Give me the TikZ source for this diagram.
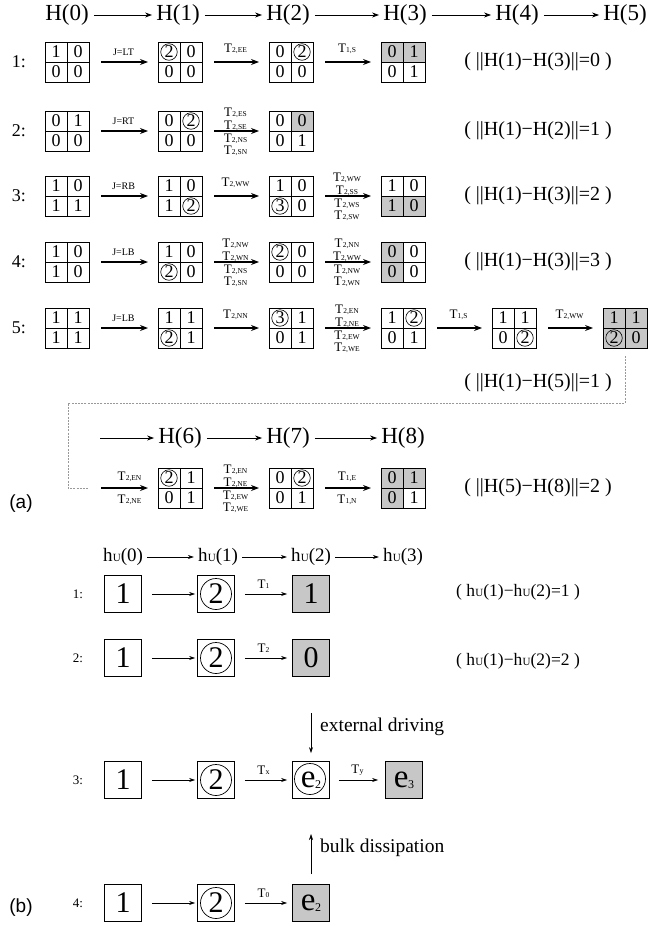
\documentclass[tikz,border=0pt]{standalone}
\usepackage{fontspec}
\setmainfont{Liberation Serif}
\newfontfamily\sansf{Liberation Sans}
\usetikzlibrary{arrows.meta,calc}
\tikzset{
  gridnode/.style={rectangle,minimum width=44pt,minimum height=40pt,inner sep=0pt,outer sep=0pt},
  cellnum/.style={font=\fontsize{18}{18}\selectfont,inner sep=0pt},
  gline/.style={line width=0.8pt},
  shadefill/.style={fill=black!22},
  harr/.style={-{Stealth[length=7pt,width=5pt]},line width=0.8pt},
  garr/.style={-{Stealth[length=8pt,width=6pt]},line width=1.1pt},
  barr/.style={-{Stealth[length=6pt,width=4pt]},line width=0.6pt},
  htext/.style={font=\fontsize{23}{23}\selectfont,inner sep=1pt},
  rowlab/.style={font=\fontsize{18}{18}\selectfont,inner sep=0pt},
  normtext/.style={font=\fontsize{20}{20}\selectfont,inner sep=0pt},
  jlab/.style={font=\fontsize{10}{10}\selectfont,inner sep=0pt},
  tlab/.style={font=\fontsize{13}{13}\selectfont,inner sep=0pt},
  bigbox/.style={draw,line width=0.8pt,minimum size=37pt,inner sep=0pt,font=\fontsize{30}{30}\selectfont},
  hutext/.style={font=\fontsize{19}{19}\selectfont,inner sep=1pt},
  browlab/.style={font=\fontsize{13}{13}\selectfont,inner sep=0pt},
  blab/.style={font=\fontsize{13}{13}\selectfont,inner sep=0pt},
  bnorm/.style={font=\fontsize{17.5}{17.5}\selectfont,inner sep=0pt},
  sidetext/.style={font=\fontsize{19.5}{19.5}\selectfont,inner sep=0pt,anchor=west},
  panel/.style={font=\sansf\fontsize{19}{19}\selectfont,inner sep=0pt},
  dashline/.style={black!40,line width=0.6pt,dash pattern=on 2pt off 1.2pt},
}
\newcommand\cd[1]{\tikz[baseline=(cdn.base)]\node[draw,circle,inner sep=0pt,minimum size=16.5pt,line width=0.6pt](cdn){#1};}
\newcommand\bcd[1]{\tikz[baseline=(cdn.base)]\node[draw,circle,inner sep=0pt,minimum size=31pt,line width=0.7pt](cdn){#1};}
\newcommand\T[1]{T\kern0.2pt{\fontsize{7.5}{7.5}\selectfont#1}}
\newcommand\hU{h\kern0.3pt{\fontsize{11}{11}\selectfont U}}
\newcommand\ee[1]{e\kern-0.5pt\raisebox{-1pt}{\fontsize{12}{12}\selectfont #1}}
\newcommand\sh[2]{\fill[shadefill] (#1.center) rectangle (#1.#2);}
\newcommand\qgrid[7]{%
  \node[gridnode] (#1) at (#2) {};
  #7%
  \node[cellnum] (#1-tl) at ($(#1.center)+(-11,-10)$) {#3};
  \node[cellnum] (#1-tr) at ($(#1.center)+(11,-10)$) {#4};
  \node[cellnum] (#1-bl) at ($(#1.center)+(-11,10)$) {#5};
  \node[cellnum] (#1-br) at ($(#1.center)+(11,10)$) {#6};
  \draw[gline] (#1.north west) rectangle (#1.south east);
  \draw[gline] (#1.north) -- (#1.south) (#1.west) -- (#1.east);
}
\newcommand\garrow[2]{\draw[garr,shorten <=12pt,shorten >=10pt] (#1) -- (#2);}
\newcommand\jl[3]{\node[jlab] (#1#2j) at ($(#1)!.5!(#2)+(0,-10)$) {#3};}
\newcommand\one[3]{\node[tlab] (#1#2t) at ($(#1)!.5!(#2)+(0,-13)$) {\T{#3}};}
\newcommand\four[6]{%
  \node[tlab] (#1#2ta) at ($(#1)!.5!(#2)+(0,-18)$) {\T{#3}};
  \node[tlab] (#1#2tb) at ($(#1)!.5!(#2)+(0,-5.5)$) {\T{#4}};
  \node[tlab] (#1#2tc) at ($(#1)!.5!(#2)+(0,8)$) {\T{#5}};
  \node[tlab] (#1#2td) at ($(#1)!.5!(#2)+(0,19.5)$) {\T{#6}};}
\begin{document}
\begin{tikzpicture}[x=1pt,y=-1pt]
\useasboundingbox (0,0) rectangle (648,926);
% ---------- header (a)
\node[htext] (h0) at (67,15) {H(0)};
\node[htext] (h1) at (178,15) {H(1)};
\node[htext] (h2) at (288,15) {H(2)};
\node[htext] (h3) at (405,15) {H(3)};
\node[htext] (h4) at (517,15) {H(4)};
\node[htext] (h5) at (625,15) {H(5)};
\foreach \a/\b in {h0/h1,h1/h2,h2/h3,h3/h4,h4/h5}
  \draw[harr,shorten <=4pt,shorten >=3pt] (\a) -- (\b);
% ---------- row labels
\node[rowlab] (l1) at (19,62) {1:};
\node[rowlab] (l2) at (19,131) {2:};
\node[rowlab] (l3) at (19,196) {3:};
\node[rowlab] (l4) at (19,262) {4:};
\node[rowlab] (l5) at (19,328) {5:};
% ---------- row 1
\qgrid{r1a}{67,62}{1}{0}{0}{0}{}
\qgrid{r1b}{180,62}{\cd{2}}{0}{0}{0}{}
\qgrid{r1c}{291,62}{0}{\cd{2}}{0}{0}{}
\qgrid{r1d}{403,62}{0}{1}{0}{1}{\sh{r1d}{north west}\sh{r1d}{north east}}
\garrow{r1a}{r1b}\garrow{r1b}{r1c}\garrow{r1c}{r1d}
\jl{r1a}{r1b}{J=LT}
\one{r1b}{r1c}{2,EE}
\one{r1c}{r1d}{1,S}
\node[normtext] (n1) at (538,62) {( ||H(1)−H(3)||=0 )};
% ---------- row 2
\qgrid{r2a}{67,131}{0}{1}{0}{0}{}
\qgrid{r2b}{180,131}{0}{\cd{2}}{0}{0}{}
\qgrid{r2c}{291,131}{0}{0}{0}{1}{\sh{r2c}{north east}}
\garrow{r2a}{r2b}\garrow{r2b}{r2c}
\jl{r2a}{r2b}{J=RT}
\four{r2b}{r2c}{2,ES}{2,SE}{2,NS}{2,SN}
\node[normtext] (n2) at (538,131) {( ||H(1)−H(2)||=1 )};
% ---------- row 3
\qgrid{r3a}{67,196}{1}{0}{1}{1}{}
\qgrid{r3b}{180,196}{1}{0}{1}{\cd{2}}{}
\qgrid{r3c}{291,196}{1}{0}{\cd{3}}{0}{}
\qgrid{r3d}{403,196}{1}{0}{1}{0}{\sh{r3d}{south west}\sh{r3d}{south east}}
\garrow{r3a}{r3b}\garrow{r3b}{r3c}\garrow{r3c}{r3d}
\jl{r3a}{r3b}{J=RB}
\one{r3b}{r3c}{2,WW}
\four{r3c}{r3d}{2,WW}{2,SS}{2,WS}{2,SW}
\node[normtext] (n3) at (538,196) {( ||H(1)−H(3)||=2 )};
% ---------- row 4
\qgrid{r4a}{67,262}{1}{0}{1}{0}{}
\qgrid{r4b}{180,262}{1}{0}{\cd{2}}{0}{}
\qgrid{r4c}{291,262}{\cd{2}}{0}{0}{0}{}
\qgrid{r4d}{403,262}{0}{0}{0}{0}{\sh{r4d}{north west}\sh{r4d}{south west}}
\garrow{r4a}{r4b}\garrow{r4b}{r4c}\garrow{r4c}{r4d}
\jl{r4a}{r4b}{J=LB}
\four{r4b}{r4c}{2,NW}{2,WN}{2,NS}{2,SN}
\four{r4c}{r4d}{2,NN}{2,WW}{2,NW}{2,WN}
\node[normtext] (n4) at (538,262) {( ||H(1)−H(3)||=3 )};
% ---------- row 5
\qgrid{r5a}{67,328}{1}{1}{1}{1}{}
\qgrid{r5b}{180,328}{1}{1}{\cd{2}}{1}{}
\qgrid{r5c}{291,328}{\cd{3}}{1}{0}{1}{}
\qgrid{r5d}{403,328}{1}{\cd{2}}{0}{1}{}
\qgrid{r5e}{514,328}{1}{1}{0}{\cd{2}}{}
\qgrid{r5f}{625,328}{1}{1}{\cd{2}}{0}{\sh{r5f}{north west}\sh{r5f}{north east}\sh{r5f}{south west}\sh{r5f}{south east}}
\garrow{r5a}{r5b}\garrow{r5b}{r5c}\garrow{r5c}{r5d}\garrow{r5d}{r5e}\garrow{r5e}{r5f}
\jl{r5a}{r5b}{J=LB}
\one{r5b}{r5c}{2,NN}
\four{r5c}{r5d}{2,EN}{2,NE}{2,EW}{2,WE}
\one{r5d}{r5e}{1,S}
\one{r5e}{r5f}{2,WW}
\node[normtext] (n5) at (538,383) {( ||H(1)−H(5)||=1 )};
% ---------- dashed continuation
\coordinate (dend) at (88,488);
\draw[dashline] ($(r5f.south)+(0,8)$) -- (625,403) -- (68,403) -- (68,488) -- (dend);
% ---------- row 6 header
\coordinate (h5s) at (100,438);
\node[htext] (h6) at (180,438) {H(6)};
\node[htext] (h7) at (288,438) {H(7)};
\node[htext] (h8) at (403,438) {H(8)};
\draw[harr,shorten >=3pt] (h5s) -- (h6);
\draw[harr,shorten <=4pt,shorten >=3pt] (h6) -- (h7);
\draw[harr,shorten <=4pt,shorten >=3pt] (h7) -- (h8);
% ---------- row 6
\coordinate (r6s) at (101,488);
\qgrid{r6b}{180,488}{\cd{2}}{1}{0}{1}{}
\qgrid{r6c}{291,488}{0}{\cd{2}}{0}{1}{}
\qgrid{r6d}{403,488}{0}{1}{0}{1}{\sh{r6d}{north west}\sh{r6d}{north east}\sh{r6d}{south west}}
\draw[garr,shorten >=10pt] (r6s) -- (r6b);
\garrow{r6b}{r6c}\garrow{r6c}{r6d}
\node[tlab] (r6t1) at ($(r6s)!.5!(r6b.west)+(0,-11)$) {\T{2,EN}};
\node[tlab] (r6t2) at ($(r6s)!.5!(r6b.west)+(0,12)$) {\T{2,NE}};
\four{r6b}{r6c}{2,EN}{2,NE}{2,EW}{2,WE}
\node[tlab] (r6t3) at ($(r6c)!.5!(r6d)+(0,-11)$) {\T{1,E}};
\node[tlab] (r6t4) at ($(r6c)!.5!(r6d)+(0,12)$) {\T{1,N}};
\node[normtext] (n6) at (538,488) {( ||H(5)−H(8)||=2 )};
\node[panel] (pa) at (21,504) {(a)};
% ---------- part (b) header
\node[hutext] (u0) at (123,557) {\hU(0)};
\node[hutext] (u1) at (218,557) {\hU(1)};
\node[hutext] (u2) at (311,557) {\hU(2)};
\node[hutext] (u3) at (403,557) {\hU(3)};
\foreach \a/\b in {u0/u1,u1/u2,u2/u3}
  \draw[barr,shorten <=3pt,shorten >=3pt] (\a) -- (\b);
% ---------- (b) rows
\node[browlab] (bl1) at (78,594) {1:};
\node[browlab] (bl2) at (78,658) {2:};
\node[browlab] (bl3) at (78,780) {3:};
\node[browlab] (bl4) at (78,903) {4:};
% row 1
\node[bigbox] (b1a) at (123,594) {1};
\node[bigbox] (b1b) at (216,594) {\bcd{2}};
\node[bigbox,fill=black!22] (b1c) at (311,594) {1};
\draw[barr,shorten <=10pt,shorten >=2pt] (b1a) -- (b1b);
\draw[barr,shorten <=10pt,shorten >=5pt] (b1b) -- (b1c);
\node[blab] (b1t) at ($(b1b)!.5!(b1c)+(0,-10)$) {\T{1}};
\node[bnorm] (bn1) at (518,592) {( \hU(1)−\hU(2)=1 )};
% row 2
\node[bigbox] (b2a) at (123,658) {1};
\node[bigbox] (b2b) at (216,658) {\bcd{2}};
\node[bigbox,fill=black!22] (b2c) at (311,658) {0};
\draw[barr,shorten <=10pt,shorten >=2pt] (b2a) -- (b2b);
\draw[barr,shorten <=10pt,shorten >=5pt] (b2b) -- (b2c);
\node[blab] (b2t) at ($(b2b)!.5!(b2c)+(0,-10)$) {\T{2}};
\node[bnorm] (bn2) at (518,661) {( \hU(1)−\hU(2)=2 )};
% row 3
\node[bigbox] (b3a) at (123,780) {1};
\node[bigbox] (b3b) at (216,780) {\bcd{2}};
\node[bigbox,font=\fontsize{33}{33}\selectfont] (b3c) at (311,780) {\ee{2}};
\draw[line width=0.7pt] ($(b3c.center)+(-1,-1)$) circle (15.5);
\node[bigbox,fill=black!22,font=\fontsize{33}{33}\selectfont] (b3d) at (404,780) {\ee{3}};
\draw[barr,shorten <=10pt,shorten >=2pt] (b3a) -- (b3b);
\draw[barr,shorten <=10pt,shorten >=5pt] (b3b) -- (b3c);
\draw[barr,shorten <=9pt,shorten >=7pt] (b3c) -- (b3d);
\node[blab] (b3t1) at ($(b3b)!.5!(b3c)+(0,-10)$) {T\kern0.2pt{\fontsize{8}{8}\selectfont x}};
\node[blab] (b3t2) at ($(b3c)!.5!(b3d)+(0,-10)$) {T\kern0.2pt{\fontsize{8}{8}\selectfont y}};
% external driving
\coordinate (edtop) at (311,713);
\draw[barr,shorten >=8pt] (edtop) -- (b3c.north);
\node[sidetext] (edt) at (320,727) {external driving};
% row 4
\node[bigbox] (b4a) at (123,903) {1};
\node[bigbox] (b4b) at (216,903) {\bcd{2}};
\node[bigbox,fill=black!22,font=\fontsize{33}{33}\selectfont] (b4c) at (311,903) {\ee{2}};
\draw[barr,shorten <=10pt,shorten >=2pt] (b4a) -- (b4b);
\draw[barr,shorten <=10pt,shorten >=5pt] (b4b) -- (b4c);
\node[blab] (b4t) at ($(b4b)!.5!(b4c)+(0,-10)$) {\T{0}};
\coordinate (bdtop) at (311,834);
\draw[barr,shorten <=10pt] (b4c.north) -- (bdtop);
\node[sidetext] (bdt) at (320,848) {bulk dissipation};
\node[panel] (pb) at (21,908) {(b)};
\end{tikzpicture}
\end{document}
